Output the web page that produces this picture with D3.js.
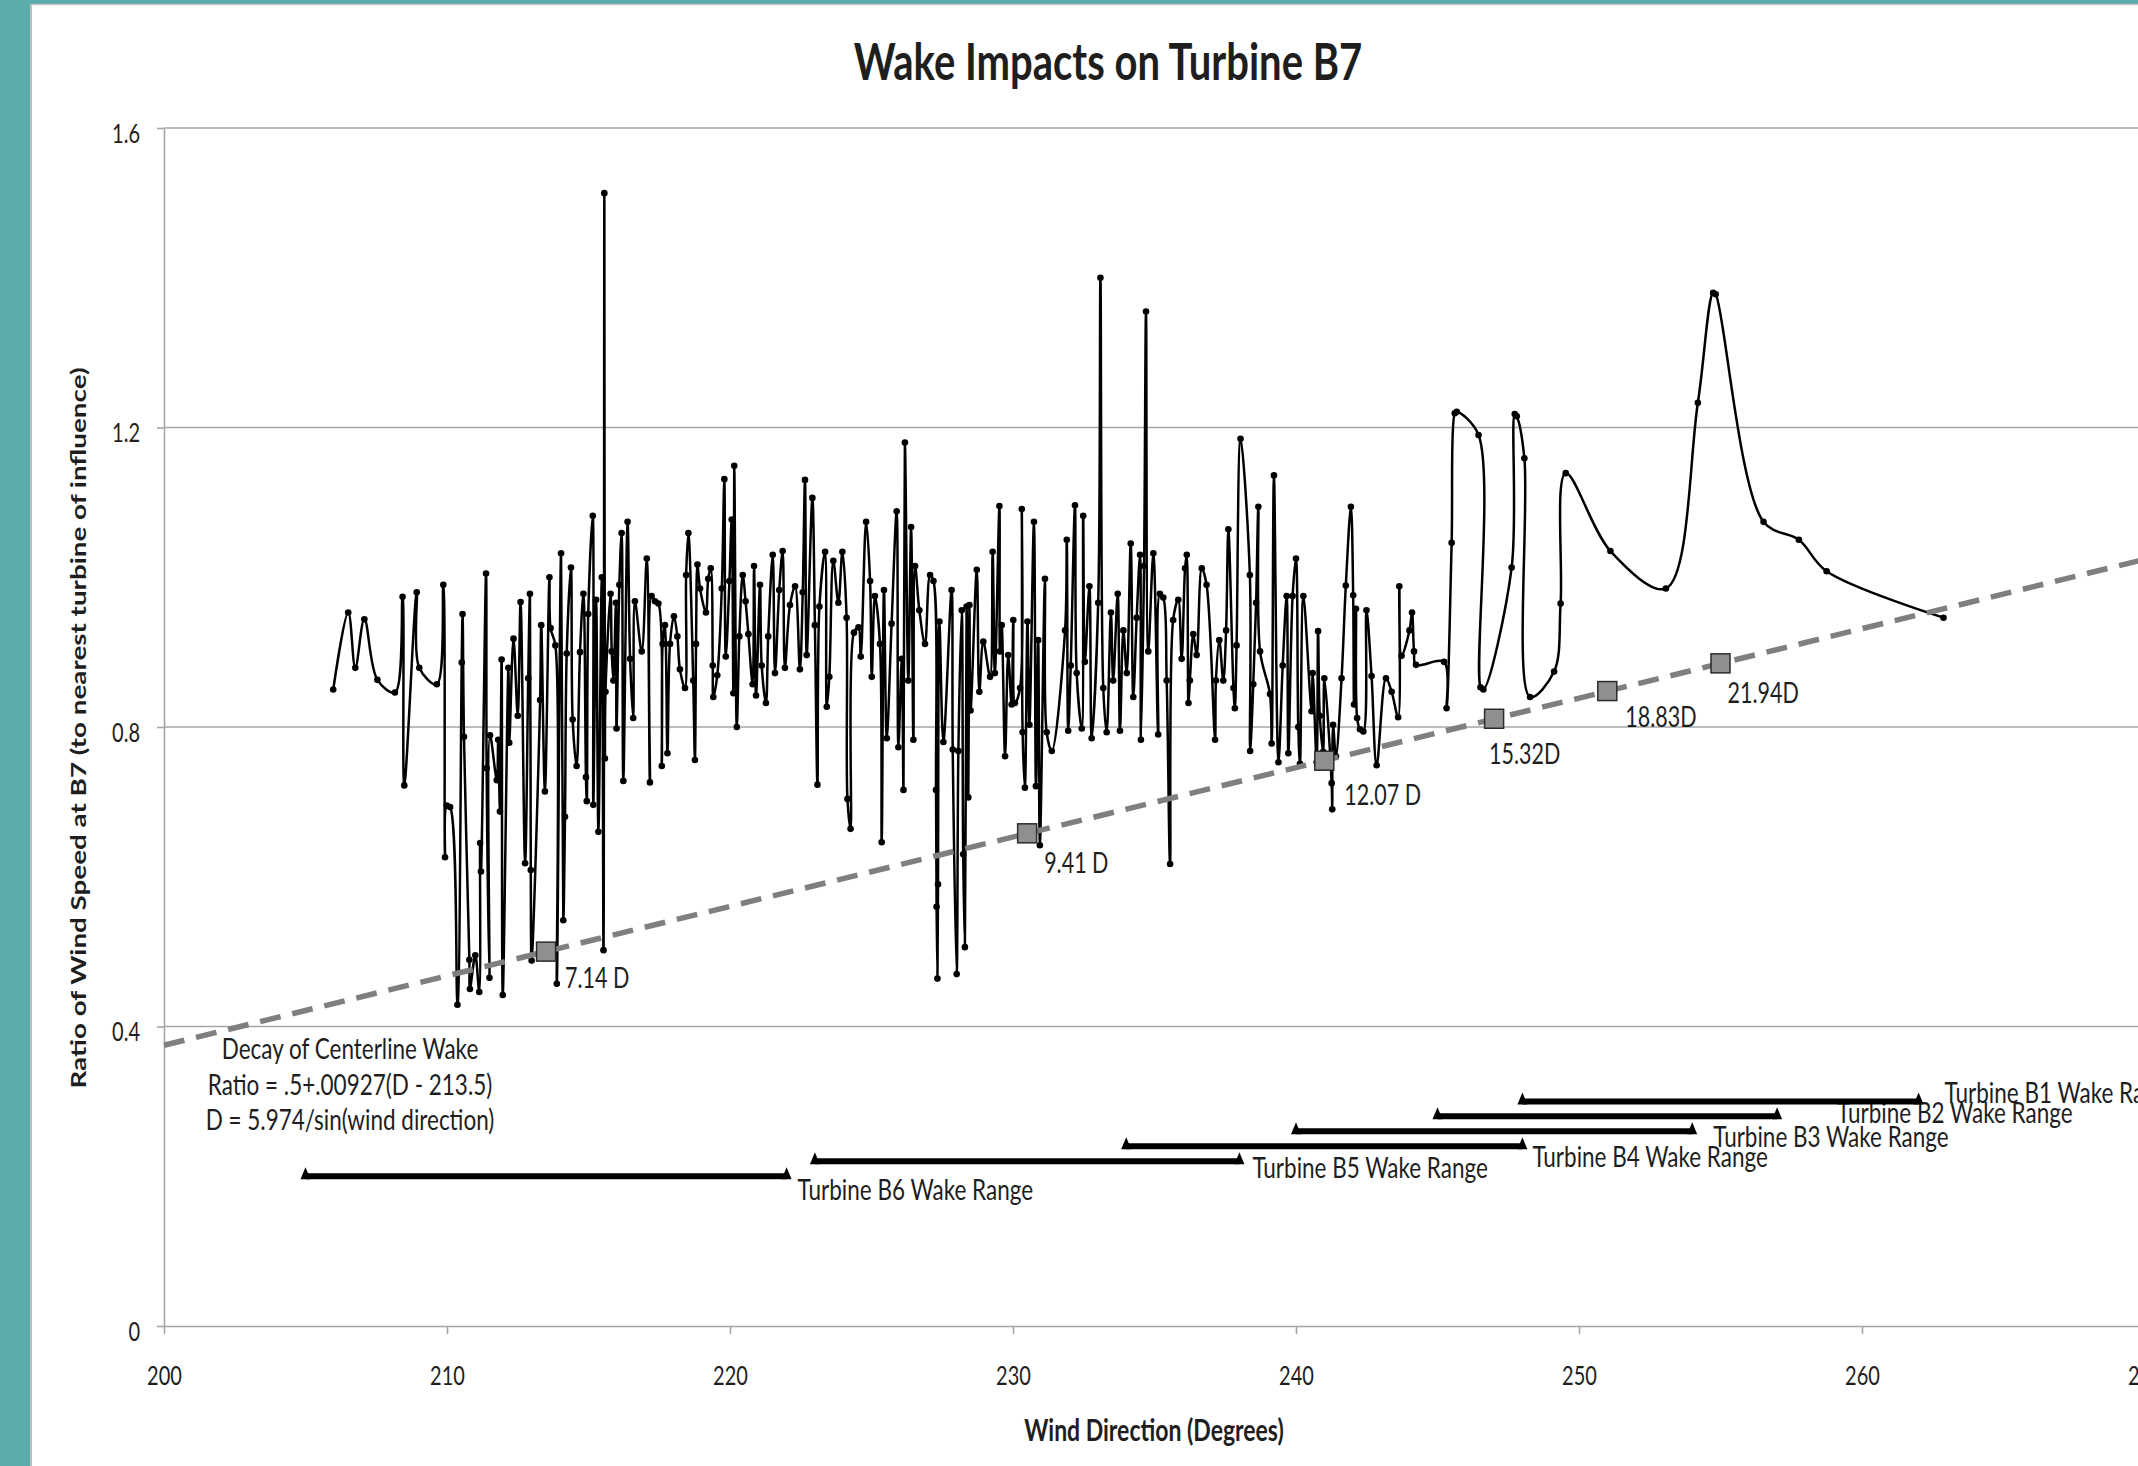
<!DOCTYPE html>
<html>
<head>
<meta charset="utf-8">
<script src="https://cdn.jsdelivr.net/npm/d3@7"></script>
<style>
  body { margin: 0; background: #fff; overflow: hidden; }
  text { font-family: Lato, "Open Sans", sans-serif; fill: #1e1e1e; }
</style>
</head>
<body>
<script>
// wind direction (deg) vs. ratio of wind speed at B7
var b7Points = [
  [205.98,0.850],[206.51,0.953],[206.76,0.879],[207.08,0.944],[207.54,0.863],[208.16,0.846],
  [208.43,0.974],[208.49,0.722],[208.93,0.980],[209.02,0.879],[209.64,0.857],[209.87,0.990],
  [209.93,0.626],[209.99,0.695],[210.11,0.693],[210.37,0.429],[210.52,0.886],[210.55,0.951],
  [210.60,0.787],[210.79,0.489],[210.81,0.450],[211.00,0.495],[211.14,0.446],[211.17,0.645],
  [211.20,0.607],[211.38,1.005],[211.40,0.745],[211.50,0.465],[211.52,0.789],[211.76,0.729],
  [211.81,0.783],[211.87,0.687],[211.93,0.890],[211.97,0.442],[212.17,0.879],[212.20,0.779],
  [212.35,0.918],[212.50,0.815],[212.60,0.967],[212.76,0.618],[212.87,0.865],[212.93,0.978],
  [212.96,0.609],[212.99,0.488],[213.29,0.836],[213.33,0.936],[213.46,0.714],[213.62,1.000],
  [213.66,0.932],[213.83,0.909],[213.88,0.457],[214.03,1.032],[214.11,0.542],[214.17,0.680],
  [214.23,0.898],[214.38,1.013],[214.44,0.810],[214.58,0.748],[214.70,0.900],[214.82,0.978],
  [214.91,0.733],[214.94,0.701],[214.99,0.951],[215.15,1.082],[215.17,0.696],[215.27,0.970],
  [215.35,0.660],[215.47,1.000],[215.53,0.502],[215.56,1.513],[215.58,0.758],[215.60,0.847],
  [215.78,0.978],[215.82,0.901],[215.88,0.862],[215.97,0.966],[215.99,0.798],[216.09,0.990],
  [216.17,1.059],[216.23,0.728],[216.38,1.074],[216.47,0.891],[216.58,0.812],[216.64,0.968],
  [216.88,0.901],[217.06,1.025],[217.17,0.726],[217.23,0.975],[217.35,0.968],[217.47,0.965],
  [217.59,0.748],[217.62,0.911],[217.70,0.936],[217.79,0.765],[217.88,0.911],[218.02,0.948],
  [218.14,0.921],[218.23,0.877],[218.41,0.852],[218.45,1.003],[218.53,1.059],[218.70,0.862],
  [218.76,0.756],[218.80,0.911],[218.85,1.017],[218.94,0.985],[219.15,0.953],[219.23,0.998],
  [219.32,1.012],[219.39,0.882],[219.41,0.840],[219.55,0.869],[219.71,0.985],[219.80,1.131],
  [219.85,0.894],[219.98,0.995],[220.06,1.077],[220.12,0.845],[220.15,1.149],[220.24,0.800],
  [220.33,0.921],[220.45,1.003],[220.55,0.968],[220.65,0.924],[220.80,0.857],[220.85,1.015],
  [220.92,0.842],[221.06,0.990],[221.12,0.882],[221.27,0.832],[221.35,0.921],[221.51,1.030],
  [221.59,0.872],[221.74,0.983],[221.86,1.035],[221.94,0.879],[222.12,0.963],[222.30,0.988],
  [222.47,0.877],[222.57,0.980],[222.65,1.130],[222.71,0.896],[222.91,1.106],[223.00,0.936],
  [223.09,0.723],[223.16,0.961],[223.36,1.034],[223.42,0.827],[223.51,0.867],[223.65,1.022],
  [223.83,0.966],[223.97,1.034],[224.12,0.946],[224.15,0.704],[224.26,0.664],[224.38,0.926],
  [224.54,0.933],[224.62,0.894],[224.81,1.074],[224.95,0.995],[225.01,0.867],[225.12,0.975],
  [225.30,0.911],[225.36,0.646],[225.44,0.983],[225.54,0.785],[225.71,0.938],[225.89,1.088],
  [225.95,0.773],[226.07,0.891],[226.13,0.716],[226.18,1.180],[226.30,0.862],[226.40,1.067],
  [226.48,0.783],[226.54,1.015],[226.69,0.956],[226.89,0.911],[227.07,1.003],[227.19,0.995],
  [227.28,0.716],[227.30,0.560],[227.33,0.464],[227.35,0.590],[227.40,0.941],[227.54,0.780],
  [227.83,0.983],[227.87,0.770],[228.01,0.470],[228.07,0.768],[228.19,0.956],[228.24,0.630],
  [228.30,0.506],[228.36,0.961],[228.42,0.706],[228.46,0.963],[228.50,0.822],[228.72,1.010],
  [228.81,0.847],[228.95,0.914],[229.19,0.867],[229.28,1.034],[229.36,0.872],[229.52,1.095],
  [229.54,0.901],[229.60,0.936],[229.72,0.761],[229.83,0.896],[229.95,0.830],[230.01,0.943],
  [230.07,0.832],[230.25,0.852],[230.31,1.091],[230.34,0.793],[230.42,0.719],[230.51,0.941],
  [230.58,0.803],[230.74,1.074],[230.81,0.721],[230.89,0.916],[230.95,0.642],[231.13,0.998],
  [231.19,0.793],[231.37,0.768],[231.84,0.929],[231.90,1.050],[231.95,0.795],[232.04,0.882],
  [232.19,1.096],[232.25,0.872],[232.43,0.798],[232.48,1.082],[232.54,0.887],[232.70,0.988],
  [232.78,0.785],[233.01,0.966],[233.09,1.400],[233.19,0.852],[233.31,0.793],[233.46,0.953],
  [233.54,0.862],[233.70,0.978],[233.78,0.795],[233.90,0.929],[234.02,0.872],[234.16,1.045],
  [234.25,0.840],[234.37,0.946],[234.49,1.030],[234.52,0.783],[234.63,1.015],[234.70,1.355],
  [234.78,0.901],[234.96,1.032],[235.13,0.790],[235.19,0.978],[235.31,0.973],[235.43,0.862],
  [235.55,0.617],[235.66,0.943],[235.84,0.970],[235.96,0.891],[236.08,1.012],[236.14,1.030],
  [236.20,0.832],[236.25,0.862],[236.37,0.924],[236.49,0.896],[236.67,1.012],[236.84,0.990],
  [237.14,0.783],[237.17,0.862],[237.29,0.916],[237.43,0.862],[237.53,0.929],[237.61,1.064],
  [237.79,0.852],[237.84,0.825],[237.90,0.909],[238.04,1.185],[238.37,1.003],[238.38,0.768],
  [238.49,0.857],[238.59,0.966],[238.67,1.094],[238.73,0.901],[239.08,0.844],[239.14,0.778],
  [239.22,1.136],[239.38,0.753],[239.53,0.882],[239.67,0.975],[239.73,0.765],[239.88,0.975],
  [240.00,1.025],[240.08,0.800],[240.14,0.751],[240.26,0.975],[240.55,0.821],[240.59,0.872],
  [240.73,0.753],[240.78,0.928],[240.84,0.815],[240.96,0.767],[241.00,0.865],[241.26,0.725],
  [241.28,0.690],[241.31,0.803],[241.41,0.761],[241.61,0.865],[241.76,0.989],[241.94,1.094],
  [242.02,0.976],[242.05,0.830],[242.12,0.958],[242.16,0.812],[242.26,0.797],[242.38,0.794],
  [242.49,0.956],[242.67,0.868],[242.85,0.749],[243.18,0.865],[243.38,0.847],[243.61,0.813],
  [243.65,0.988],[243.73,0.895],[244.01,0.929],[244.10,0.953],[244.17,0.901],[244.24,0.883],
  [245.23,0.887],[245.32,0.825],[245.50,1.046],[245.61,1.219],[245.68,1.221],[246.45,1.190],
  [246.52,0.853],[246.62,0.850],[247.62,1.013],[247.73,1.218],[247.80,1.215],[248.07,1.159],
  [248.27,0.840],[249.12,0.874],[249.35,0.965],[249.53,1.139],[251.11,1.035],[253.07,0.985],
  [254.20,1.233],[254.74,1.380],[254.83,1.378],[256.52,1.074],[257.77,1.050],[258.75,1.008],
  [262.88,0.946]
];

// centerline wake decay line, ends at the plot edges
var decayDir = [200, 270];
var decayRatio = [0.375, 1.024];

// square markers on the decay line
var markerDir = [213.5, 230.5, 241, 247, 251, 255];
var markerRatio = [0.5, 0.658, 0.755, 0.811, 0.848, 0.885];
var markerLabel = ["7.14 D", "9.41 D", "12.07 D", "15.32D", "18.83D", "21.94D"];

// wake ranges of the upstream turbines
var wakeTurbine = ["B6", "B5", "B4", "B3", "B2", "B1"];
var wakeFrom = [205, 223, 234, 240, 245, 248];
var wakeTo = [222, 238, 248, 254, 257, 262];
var wakeLevel = [0.20, 0.22, 0.24, 0.26, 0.28, 0.30];

var xTicks = [200, 210, 220, 230, 240, 250, 260, 270];
var yTicks = [0, 0.4, 0.8, 1.2, 1.6];
var noteLines = ["Decay of Centerline Wake", "Ratio = .5+.00927(D - 213.5)", "D = 5.974/sin(wind direction)"];

// label nudges (dx, dy) - placement only
var markerNudge = [[19,36],[17,40],[20,44],[-5,45],[18,36],[7,40]];
var wakeNudge = [[11,24],[13,17],[10,21],[21,16],[60,7],[26,2]];

var width = 2138, height = 1466;
var SY = 1.3;   // the source screenshot has its text stretched tall

var svg = d3.select("body").append("svg")
  .attr("width", width)
  .attr("height", height);

// teal window frame
svg.append("rect").attr("x",0).attr("y",0).attr("width",30).attr("height",height).attr("fill","#5aadab");
svg.append("rect").attr("x",0).attr("y",0).attr("width",width).attr("height",4).attr("fill","#5aadab");
svg.append("line").attr("x1",31).attr("x2",31).attr("y1",4).attr("y2",height).attr("stroke","#a8a8a8").attr("stroke-width",1.5);
svg.append("line").attr("x1",31).attr("x2",width).attr("y1",4.5).attr("y2",4.5).attr("stroke","#c8c8c8").attr("stroke-width",1.5);

var xScale = d3.scaleLinear().domain([200, 270]).range([164, 2145]);
var yScale = d3.scaleLinear().domain([0, 1.6]).range([1326, 128]);

function tallText(g, x, y, str, size, anchor, weight) {
  return g.append("text")
    .attr("transform", "translate(" + x + "," + y + ") scale(1," + SY + ")")
    .attr("text-anchor", anchor || "start")
    .style("font-size", size + "px")
    .style("font-weight", weight || 400)
    .text(str);
}

// gridlines
svg.append("g").selectAll("line")
  .data(yTicks.slice(1))
  .enter().append("line")
  .attr("x1", xScale(200)).attr("x2", width)
  .attr("y1", function(d){ return yScale(d); })
  .attr("y2", function(d){ return yScale(d); })
  .attr("stroke", "#a6a6a6").attr("stroke-width", 1.6);

// axes
var yAxis = svg.append("g")
  .attr("transform", "translate(" + xScale(200) + ",0)")
  .call(d3.axisLeft(yScale).tickValues(yTicks).tickSize(7).tickSizeOuter(0)
        .tickFormat(function(d){ return d === 0 ? "0" : d3.format(".1f")(d); }));
var xAxis = svg.append("g")
  .attr("transform", "translate(0," + yScale(0) + ")")
  .call(d3.axisBottom(xScale).tickValues(xTicks).tickSize(8).tickSizeOuter(0).tickFormat(d3.format("d")));

[yAxis, xAxis].forEach(function(ax){
  ax.selectAll("path, line").attr("stroke", "#a6a6a6").attr("stroke-width", 1.6);
  ax.selectAll("text").style("font-size", "20px").style("font-family", "Lato, sans-serif").attr("fill", "#1e1e1e");
});
yAxis.selectAll("text").attr("x", null).attr("dy", null)
  .attr("transform", "translate(-24,14) scale(1," + SY + ")");
xAxis.selectAll("text").attr("y", null).attr("dy", null)
  .attr("transform", "translate(0,59) scale(1," + SY + ")");

// wake range bars
var wake = svg.append("g");
wakeTurbine.forEach(function(t, i){
  var y = yScale(wakeLevel[i]);
  var x1 = xScale(wakeFrom[i]), x2 = xScale(wakeTo[i]);
  wake.append("line")
    .attr("x1", x1).attr("x2", x2).attr("y1", y).attr("y2", y)
    .attr("stroke", "#000").attr("stroke-width", 6);
  [x1, x2].forEach(function(x){
    wake.append("path")
      .attr("d", "M" + (x - 5) + "," + (y + 3) + "L" + (x + 5) + "," + (y + 3) + "L" + x + "," + (y - 9) + "Z")
      .attr("fill", "#000");
  });
  tallText(wake, x2 + wakeNudge[i][0], y + wakeNudge[i][1], "Turbine " + t + " Wake Range", 22.5);
});

// main series, smoothed like the spreadsheet line
var line = d3.line()
  .x(function(d){ return xScale(d[0]); })
  .y(function(d){ return yScale(d[1]); })
  .curve(d3.curveCatmullRom.alpha(0.5));

svg.append("path")
  .datum(b7Points)
  .attr("d", line)
  .attr("fill", "none")
  .attr("stroke", "#000")
  .attr("stroke-width", 2.5)
  .attr("stroke-linejoin", "round");

svg.append("g").selectAll("circle")
  .data(b7Points)
  .enter().append("circle")
  .attr("cx", function(d){ return xScale(d[0]); })
  .attr("cy", function(d){ return yScale(d[1]); })
  .attr("r", 3.3)
  .attr("fill", "#000");

// decay line
var decay = decayDir.map(function(d, i){ return [d, decayRatio[i]]; });
svg.append("path")
  .datum(decay)
  .attr("d", d3.line().x(function(d){ return xScale(d[0]); }).y(function(d){ return yScale(d[1]); }))
  .attr("stroke", "#7f7f7f")
  .attr("stroke-width", 5.5)
  .attr("stroke-dasharray", "21,12")
  .attr("fill", "none");

// square markers + distance labels
var sq = 19;
var marks = svg.append("g");
markerDir.forEach(function(d, i){
  var cx = xScale(d), cy = yScale(markerRatio[i]);
  marks.append("rect")
    .attr("x", cx - sq / 2).attr("y", cy - sq / 2)
    .attr("width", sq).attr("height", sq)
    .attr("fill", "#8f8f8f").attr("stroke", "#2b2b2b").attr("stroke-width", 1.5);
  tallText(marks, cx + markerNudge[i][0], cy + markerNudge[i][1], markerLabel[i], 21.5);
});

// note under the decay line
noteLines.forEach(function(t, i){
  tallText(svg, 350, 1059 + i * 35.5, t, 22.5, "middle");
});

// titles
tallText(svg, 1108, 80, "Wake Impacts on Turbine B7", 40, "middle", 700);
tallText(svg, 1154, 1441, "Wind Direction (Degrees)", 23, "middle", 700);
svg.append("text")
  .attr("transform", "translate(86,728) rotate(-90) scale(" + SY + ",1)")
  .attr("text-anchor", "middle")
  .style("font-size", "21.4px")
  .style("font-weight", 700)
  .text("Ratio of Wind Speed at B7 (to nearest turbine of influence)");
</script>
</body>
</html>
